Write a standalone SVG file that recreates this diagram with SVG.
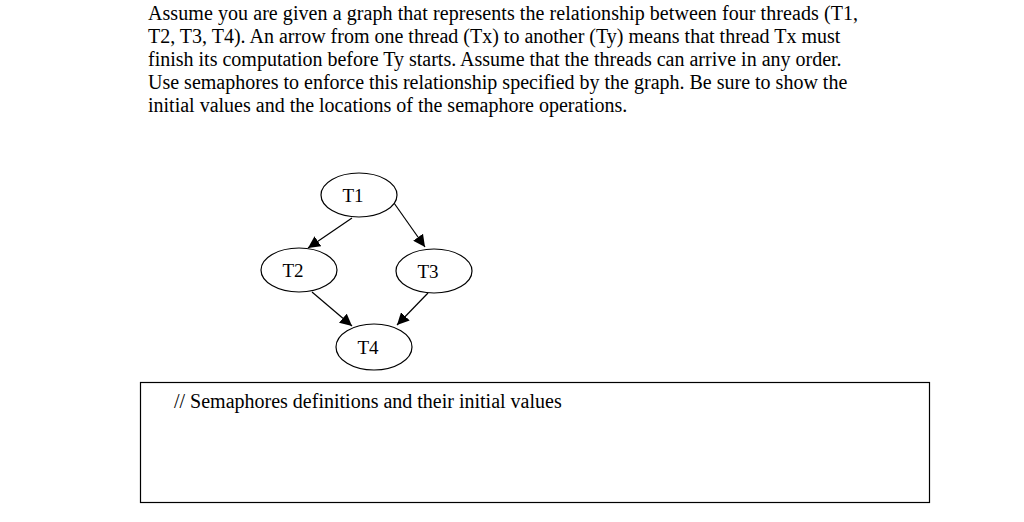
<svg xmlns="http://www.w3.org/2000/svg" width="1024" height="522" viewBox="0 0 1024 522">
<style>
text{font-family:"Liberation Serif","Times New Roman",serif;fill:#000}
.p{font-size:20px}
.n{font-size:19px;text-anchor:middle}
ellipse{fill:#fff;stroke:#000;stroke-width:1.2}
.c line{stroke:#000;stroke-width:1.2}
</style>
<defs><marker id="a" viewBox="0 0 10 10" refX="10" refY="5" markerWidth="12" markerHeight="12" markerUnits="userSpaceOnUse" orient="auto"><path d="M0,0L10,5L0,10z" fill="#000"/></marker></defs>
<rect width="1024" height="522" fill="#fff"/>
<g class="p">
<text x="148" y="20" textLength="710">Assume you are given a graph that represents the relationship between four threads (T1,</text>
<text x="148" y="43">T2, T3, T4). An arrow from one thread (Tx) to another (Ty) means that thread Tx must</text>
<text x="148" y="66">finish its computation before Ty starts. Assume that the threads can arrive in any order.</text>
<text x="148" y="89">Use semaphores to enforce this relationship specified by the graph. Be sure to show the</text>
<text x="148" y="112">initial values and the locations of the semaphore operations.</text>
</g>
<g class="c">
<line x1="352" y1="218" x2="308" y2="248" marker-end="url(#a)"/>
<line x1="394" y1="203" x2="425" y2="247" marker-end="url(#a)"/>
<line x1="312" y1="292" x2="352" y2="326" marker-end="url(#a)"/>
<line x1="428" y1="293" x2="397" y2="325" marker-end="url(#a)"/>
</g>
<g id="T1"><ellipse cx="359" cy="195" rx="38" ry="22"/><text class="n" x="353" y="202">T1</text></g>
<g id="T2"><ellipse cx="299" cy="270" rx="38" ry="22"/><text class="n" x="293" y="277">T2</text></g>
<g id="T3"><ellipse cx="434" cy="271" rx="38" ry="22"/><text class="n" x="428" y="278">T3</text></g>
<g id="T4"><ellipse cx="374" cy="347" rx="38" ry="23"/><text class="n" x="368" y="354">T4</text></g>
<rect x="140.5" y="382.5" width="789" height="120" fill="none" stroke="#000" stroke-width="1.2"/>
<text class="p" x="174" y="408">// Semaphores definitions and their initial values</text>
</svg>
